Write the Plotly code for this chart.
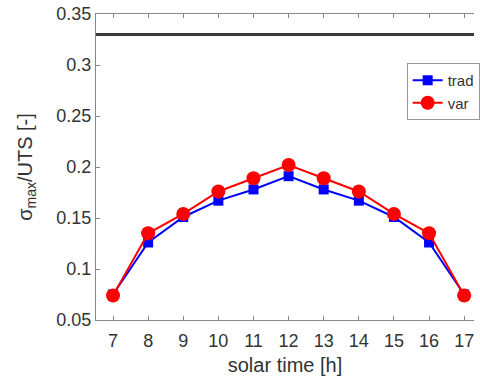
import plotly.graph_objects as go

# solar hour of the day
hours = [7, 8, 9, 10, 11, 12, 13, 14, 15, 16, 17]
# normalised maximum stress sigma_max / UTS
trad = [0.075, 0.126, 0.151, 0.167, 0.178, 0.191, 0.178, 0.167, 0.151, 0.126, 0.075]
var = [0.074, 0.135, 0.154, 0.176, 0.189, 0.202, 0.189, 0.176, 0.154, 0.135, 0.074]
# allowable limit
limit = 0.33

y_ticks = [0.05, 0.1, 0.15, 0.2, 0.25, 0.3, 0.35]

fig = go.Figure()
fig.add_trace(go.Scatter(
    x=hours, y=trad, name="trad", mode="lines+markers",
    line=dict(color="#0000ff", width=2),
    marker=dict(symbol="square", size=10, color="#0000ff"),
))
fig.add_trace(go.Scatter(
    x=hours, y=var, name="var", mode="lines+markers",
    line=dict(color="#ff0000", width=2),
    marker=dict(symbol="circle", size=14, color="#ff0000"),
))

fig.add_shape(type="line", xref="paper", x0=0, x1=1, yref="y", y0=limit, y1=limit,
              line=dict(color="#3a3a3a", width=3), layer="above")

tick_font = dict(family="Liberation Sans, Arial, sans-serif", size=18, color="#333333")
title_font = dict(family="Liberation Sans, Arial, sans-serif", size=20, color="#333333")

fig.update_layout(
    width=480, height=385,
    margin=dict(l=96, r=0, t=14, b=65),
    paper_bgcolor="white", plot_bgcolor="white",
    showlegend=True,
    legend=dict(
        x=1.015, y=0.84, xanchor="right", yanchor="top",
        bgcolor="white", bordercolor="#999999", borderwidth=1,
        font=dict(family="Liberation Sans, Arial, sans-serif", size=15, color="#333333"),
        tracegroupgap=0, itemwidth=30,
    ),
    xaxis=dict(
        range=[6.515, 17.28], tickvals=hours, ticks="inside", ticklen=4,
        tickcolor="#888888", showline=True, linecolor="#888888", linewidth=1,
        mirror="ticks", showgrid=False, zeroline=False, tickfont=tick_font,
        ticklabeloverflow="allow", ticklabelstandoff=4,
        title=dict(text="solar time [h]", font=title_font, standoff=8),
    ),
    yaxis=dict(
        range=[0.05, 0.35], tickvals=y_ticks, ticks="inside", ticklen=4,
        tickcolor="#888888", showline=True, linecolor="#888888", linewidth=1,
        mirror=False, showgrid=False, zeroline=False, tickfont=tick_font,
        title=dict(text="σ<sub>max</sub>/UTS [-]", font=title_font, standoff=18),
    ),
)

fig.write_html("out.html")
